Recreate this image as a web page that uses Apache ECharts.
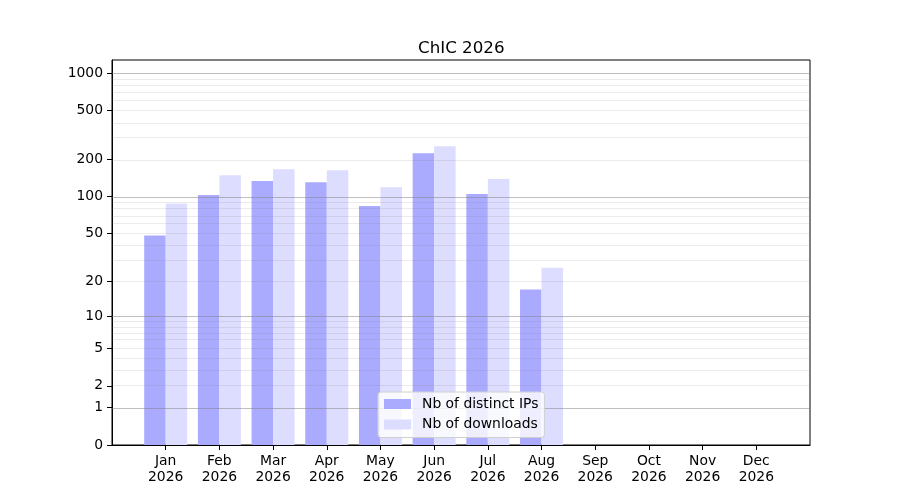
<!DOCTYPE html>
<html>
<head>
<meta charset="utf-8">
<script src="https://cdn.jsdelivr.net/npm/echarts@6/dist/echarts.min.js"></script>
<style>
  html, body { margin: 0; padding: 0; background: #fff; }
  #chart { width: 900px; height: 500px; }
</style>
</head>
<body>
<div id="chart"></div>
<script>
// values
const months = ['Jan', 'Feb', 'Mar', 'Apr', 'May', 'Jun', 'Jul', 'Aug', 'Sep', 'Oct', 'Nov', 'Dec']
const year = '2026'
const distinctIPs = [48, 103, 134, 131, 84, 225, 105, 17, 0, 0, 0, 0]
const downloads = [88, 149, 167, 164, 119, 257, 139, 26, 0, 0, 0, 0]
const yTickLabels = [0, 1, 2, 5, 10, 20, 50, 100, 200, 500, 1000]
const majorGrid = [1, 10, 100, 1000]
const minorGrid = [2, 3, 4, 5, 6, 7, 8, 9, 20, 30, 40, 50, 60, 70, 80, 90, 200, 300, 400, 500, 600, 700, 800, 900]

// y scale is log10(v + 1)
const tf = v => Math.log10(v + 1)
const font = 'DejaVu Sans'
const fs = 13.9

// pad one empty slot on each side so the months sit like matplotlib's xlim(-1, 12)
const cats = [''].concat(months, [''])
const pad = arr => [null].concat(arr.map(tf), [null])

const gridLines = []
    .concat(minorGrid.map(v => ({ yAxis: tf(v), lineStyle: { color: 'rgba(128,128,128,0.16)', width: 1, type: 'solid' } })))
    .concat(majorGrid.map(v => ({ yAxis: tf(v), lineStyle: { color: 'rgba(128,128,128,0.5)', width: 1, type: 'solid' } })))

const chart = echarts.init(document.getElementById('chart'))
chart.setOption({
    animation: false,
    title: {
        text: 'ChIC ' + year,
        left: 413,
        top: 35,
        textStyle: { fontFamily: font, fontSize: 16.7, fontWeight: 'normal', color: '#000' }
    },
    legend: {
        data: ['Nb of distinct IPs', 'Nb of downloads'],
        orient: 'vertical',
        left: 378,
        top: 392,
        z: 10,
        padding: [5, 6, 6, 6],
        itemGap: 6.5,
        itemWidth: 27,
        itemHeight: 10,
        icon: 'rect',
        backgroundColor: 'rgba(255,255,255,0.8)',
        borderColor: '#d0d0d0',
        borderWidth: 1,
        borderRadius: 3,
        textStyle: { fontFamily: font, fontSize: fs, lineHeight: 14, color: '#000', padding: [0, 0, 0, 6] }
    },
    grid: {
        left: 112,
        right: 90,
        top: 60,
        bottom: 55,
        show: true,
        borderColor: '#000',
        borderWidth: 1,
        backgroundColor: 'transparent'
    },
    xAxis: {
        type: 'category',
        data: cats,
        boundaryGap: false,
        axisLine: { lineStyle: { color: '#000', width: 1 } },
        axisTick: {
            length: 5,
            lineStyle: { color: '#000' },
            interval: (i, v) => v !== ''
        },
        axisLabel: {
            interval: 0,
            margin: 9,
            fontFamily: font,
            fontSize: fs,
            lineHeight: 15.5,
            color: '#000',
            formatter: v => (v === '' ? '' : v + '\n' + year)
        },
        splitLine: { show: false }
    },
    yAxis: {
        type: 'value',
        min: 0,
        max: 3.107,
        axisLine: { show: true, lineStyle: { color: '#000', width: 1 } },
        axisTick: {
            show: true,
            length: 5,
            lineStyle: { color: '#000' },
            customValues: yTickLabels.map(tf)
        },
        axisLabel: {
            margin: 9,
            fontFamily: font,
            fontSize: fs,
            color: '#000',
            customValues: yTickLabels.map(tf),
            formatter: v => String(Math.round(Math.pow(10, v) - 1))
        },
        splitLine: { show: false }
    },
    series: [
        {
            name: 'Nb of distinct IPs',
            type: 'bar',
            data: pad(distinctIPs),
            barWidth: 21.5,
            barGap: '0%',
            itemStyle: { color: '#aaaaff' }
        },
        {
            name: 'Nb of downloads',
            type: 'bar',
            data: pad(downloads),
            barWidth: 21.5,
            barGap: '0%',
            itemStyle: { color: '#ddddff' }
        },
        {
            name: 'grid',
            type: 'line',
            z: 5,
            data: [],
            silent: true,
            markLine: {
                silent: true,
                symbol: 'none',
                label: { show: false },
                animation: false,
                data: gridLines
            }
        }
    ]
})
</script>
</body>
</html>
